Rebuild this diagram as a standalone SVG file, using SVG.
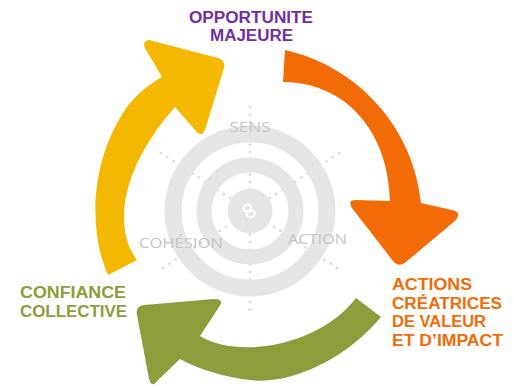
<svg xmlns="http://www.w3.org/2000/svg" width="514" height="388" viewBox="0 0 514 388">
  <style>
    .ring { fill: none; stroke: #e6e6e6; }
    .spoke { fill: none; stroke: #dddddd; stroke-width: 3; stroke-linecap: round; stroke-dasharray: 0 7.5; }
    .lbl { font-family: "Open Sans", "Liberation Sans", sans-serif; font-size: 14.5px; fill: #c4c4c4; }
    .ttl { font-family: "Liberation Sans", Arial, sans-serif; font-size: 16px; font-weight: 700; }
    .purple { fill: #7030a0; }
    .green { fill: #8d9c3c; }
    .orange { fill: #f26b07; }
  </style>
  <rect width="514" height="388" fill="#ffffff"/>

  <g id="target">
    <g id="spokes">
      <line class="spoke" x1="250" y1="107" x2="250" y2="316"/>
      <line class="spoke" x1="161" y1="153" x2="339" y2="269"/>
      <line class="spoke" x1="339" y1="153" x2="161" y2="269"/>
    </g>
    <circle class="ring" cx="250" cy="211" r="77" stroke-width="17"/>
    <circle class="ring" cx="250" cy="211" r="46" stroke-width="15"/>
    <circle cx="250" cy="211" r="22.5" fill="#e6e6e6"/>
    <g id="center-icon" fill="none" stroke="#ffffff" stroke-width="2" transform="rotate(-30 249 211)">
      <ellipse cx="249" cy="207.5" rx="4" ry="3.2"/>
      <ellipse cx="249" cy="214.5" rx="4" ry="3.2"/>
    </g>
  </g>

  <g id="label-sens"><text class="lbl" x="250" y="132" text-anchor="middle" textLength="41" lengthAdjust="spacingAndGlyphs">SENS</text></g>
  <g id="label-cohesion"><text class="lbl" x="139" y="248" textLength="84" lengthAdjust="spacingAndGlyphs">COHÉSION</text></g>
  <g id="label-action"><text class="lbl" x="288" y="244" textLength="59" lengthAdjust="spacingAndGlyphs">ACTION</text></g>

  <g id="arrows">
    <path id="arrow-yellow" fill="#f4b800" d="M108,275 C88,230 90,160 127,107 C136,95 148,85 162,77 L145,48 Q142,41 149,40 L218,58 Q226,61 224,68 L205,130 Q201,138 196,131 L175,107 C150,135 125,175 124,215 C124,235 128,248 137,260 Z"/>
    <path id="arrow-orange" fill="#f26b07" d="M285,50 C358.6,66.6 413.5,128.1 421,203 L452,210 Q462,212 456,220 L406,262 Q399,268 393,261 L352,208 Q347,200 356,200 L390,201 C388,125 340,82 283,82 Z"/>
    <path id="arrow-green" fill="#8e9c3c" d="M381,317 C345,360 290,385 250,380 C225,377 200,370 180,359 L158,380 Q152,389 149,379 L137,315 Q135,306 144,305 L214,299 Q225,299 219,307 L200,336 C240,360 320,345 356,298 Z"/>
  </g>

  <g id="node-opportunite">
    <text class="ttl purple" x="251" y="23" text-anchor="middle" textLength="124" lengthAdjust="spacingAndGlyphs">OPPORTUNITE</text>
    <text class="ttl purple" x="251.5" y="41" text-anchor="middle" textLength="83" lengthAdjust="spacingAndGlyphs">MAJEURE</text>
  </g>
  <g id="node-confiance">
    <text class="ttl green" x="20" y="298" textLength="106" lengthAdjust="spacingAndGlyphs">CONFIANCE</text>
    <text class="ttl green" x="20" y="317" textLength="107" lengthAdjust="spacingAndGlyphs">COLLECTIVE</text>
  </g>
  <g id="node-actions">
    <text class="ttl orange" x="392" y="290" textLength="80" lengthAdjust="spacingAndGlyphs">ACTIONS</text>
    <text class="ttl orange" x="392" y="308.5" textLength="110" lengthAdjust="spacingAndGlyphs">CRÉATRICES</text>
    <text class="ttl orange" x="392" y="327" textLength="94" lengthAdjust="spacingAndGlyphs">DE VALEUR</text>
    <text class="ttl orange" x="392" y="346" textLength="111" lengthAdjust="spacingAndGlyphs">ET D’IMPACT</text>
  </g>
</svg>
